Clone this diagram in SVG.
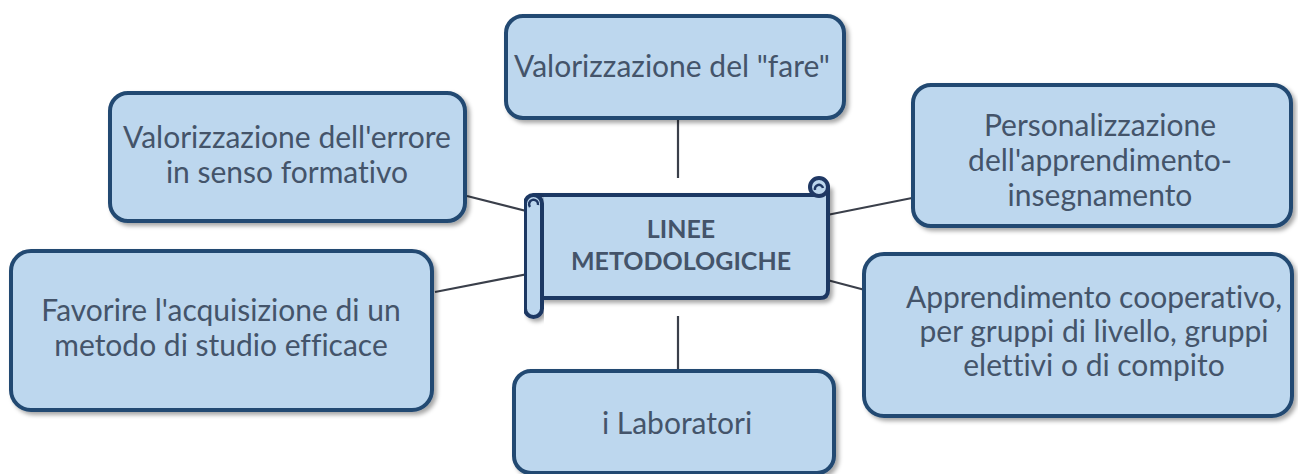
<svg xmlns="http://www.w3.org/2000/svg" width="1298" height="474" viewBox="0 0 1298 474">
<defs>
<filter id="sh" x="-5%" y="-5%" width="115%" height="120%">
<feDropShadow dx="3" dy="3" stdDeviation="2" flood-color="#000" flood-opacity="0.35"/>
</filter>
</defs>
<style>
.box{fill:#bdd7ee;stroke:#234a72;stroke-width:4;filter:url(#sh)}
.t{font-family:Lato,"Liberation Sans",sans-serif;font-size:30px;fill:#44546a;text-anchor:middle;font-variant-ligatures:none}
.c{font-family:Lato,"Liberation Sans",sans-serif;font-size:25px;font-weight:bold;fill:#44546a;text-anchor:middle}
.ln{stroke:#3a3f4a;stroke-width:2.2;fill:none}
.sc{fill:#bdd7ee;stroke:#1f3864;stroke-width:4;stroke-linejoin:round}
</style>
<g id="connectors">
<line class="ln" x1="678" y1="120" x2="678" y2="178"/>
<line class="ln" x1="678" y1="316" x2="678" y2="370"/>
<line class="ln" x1="467" y1="196" x2="542" y2="215"/>
<line class="ln" x1="435" y1="292" x2="538" y2="272"/>
<line class="ln" x1="812" y1="218" x2="912" y2="198"/>
<line class="ln" x1="812" y1="276" x2="865" y2="290"/>
</g>
<g id="center">
<path class="sc" d="M534,195 H819 V187 A9,9 0 0 1 828,187 V290 Q828,298 820,298 H540 Z" filter="url(#sh)"/>
<circle class="sc" cx="819" cy="187" r="9"/>
<path d="M815,190 A4,4 0 1 1 823,188" fill="none" stroke="#1f3864" stroke-width="2.5"/>
<rect class="sc" x="525" y="195" width="17" height="122" rx="8.5" filter="url(#sh)"/>
<path d="M530,207 A4.5,4.5 0 1 1 538,205" fill="none" stroke="#1f3864" stroke-width="2.5"/>
<text class="c" x="681" y="238">LINEE</text>
<text class="c" x="681" y="270">METODOLOGICHE</text>
</g>
<g id="n-fare">
<rect class="box" x="506" y="16" width="338" height="102" rx="17"/>
<text class="t" x="672" y="77">Valorizzazione del "fare"</text>
</g>
<g id="n-errore">
<rect class="box" x="110" y="93" width="355" height="128" rx="18"/>
<text class="t" x="287" y="148">Valorizzazione dell'errore</text>
<text class="t" x="287" y="183">in senso formativo</text>
</g>
<g id="n-person">
<rect class="box" x="913" y="85" width="378" height="141" rx="18"/>
<text class="t" x="1100" y="136">Personalizzazione</text>
<text class="t" x="1100" y="171">dell'apprendimento-</text>
<text class="t" x="1100" y="206">insegnamento</text>
</g>
<g id="n-metodo">
<rect class="box" x="11" y="251" width="421" height="159" rx="20"/>
<text class="t" x="221" y="321">Favorire l'acquisizione di un</text>
<text class="t" x="221" y="356">metodo di studio efficace</text>
</g>
<g id="n-coop">
<rect class="box" x="864" y="254" width="428" height="162" rx="20"/>
<text class="t" x="1094" y="308">Apprendimento cooperativo,</text>
<text class="t" x="1094" y="342">per gruppi di livello, gruppi</text>
<text class="t" x="1094" y="376">elettivi o di compito</text>
</g>
<g id="n-lab">
<rect class="box" x="514" y="371" width="320" height="102" rx="17"/>
<text class="t" x="677" y="434">i Laboratori</text>
</g>
</svg>
